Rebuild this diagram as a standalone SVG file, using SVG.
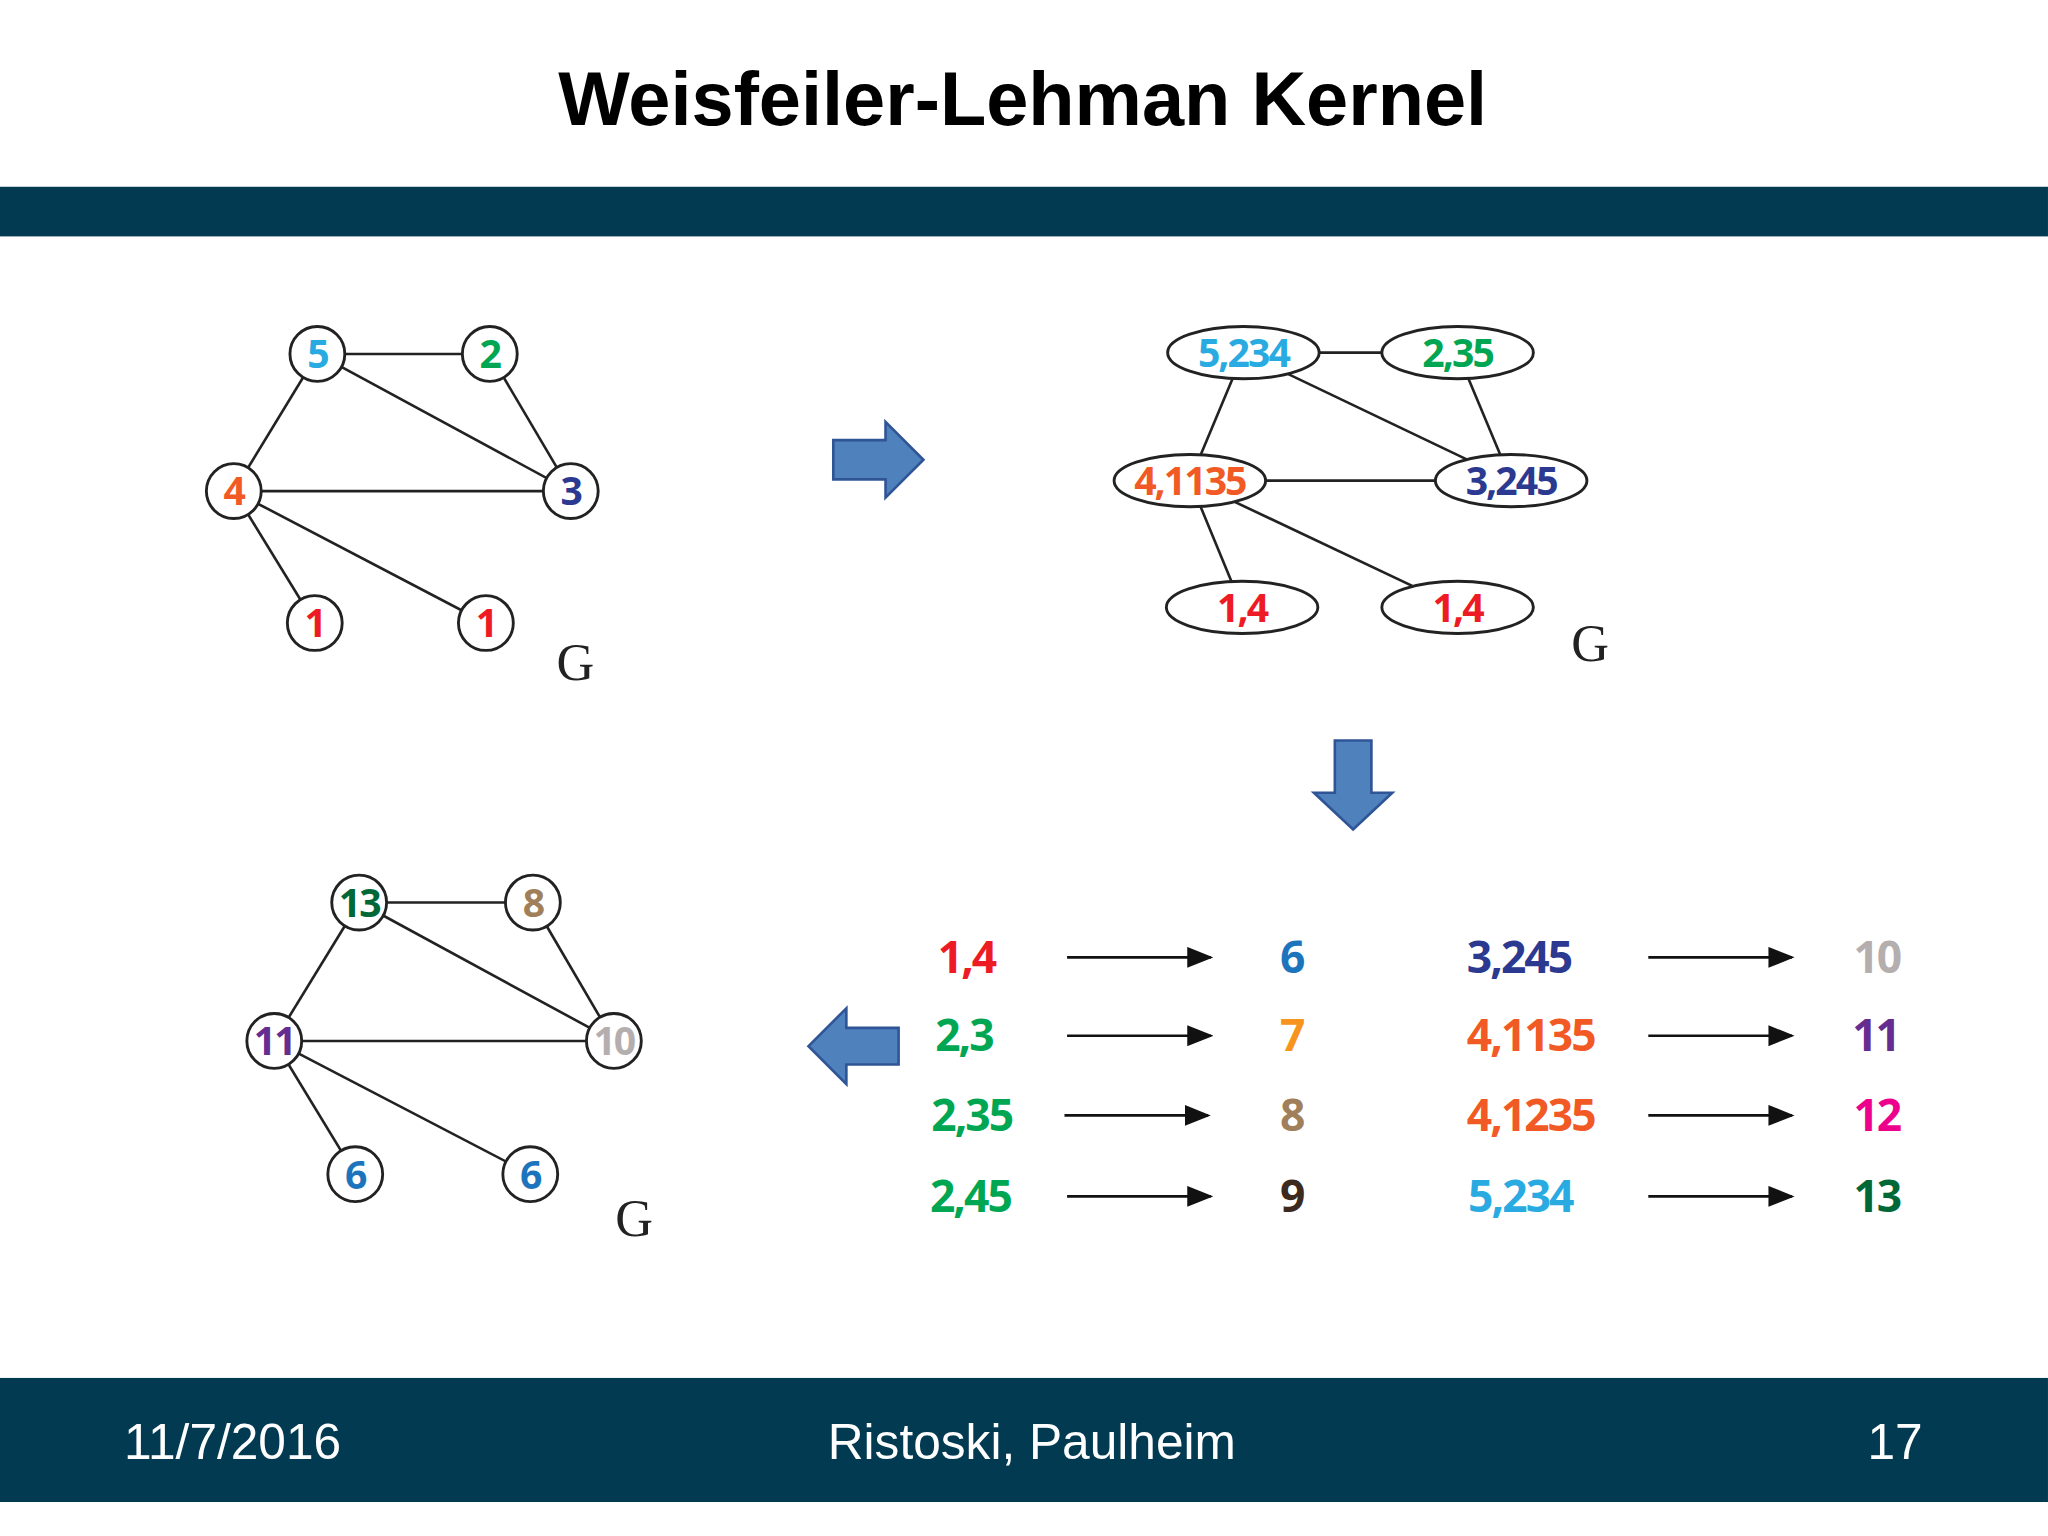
<svg xmlns="http://www.w3.org/2000/svg" width="2048" height="1536" viewBox="0 0 2048 1536">
<style>
.e{stroke:#222;stroke-width:2;fill:none}
.n{fill:#fff;stroke:#222;stroke-width:2.2}
.t{font-family:"Open Sans",sans-serif;font-weight:bold;text-anchor:middle;letter-spacing:-1.5px}
.g{font-family:"Liberation Serif",serif;font-size:40px;fill:#222}
.ar{fill:#4f81bd;stroke:#2f5597;stroke-width:2}
.tl{stroke:#111;stroke-width:2;fill:none;marker-end:url(#ah)}
.f{font-family:"Liberation Sans",Arial,sans-serif;font-size:38px;fill:#fff}
</style>
<defs><marker id="ah" markerWidth="10" markerHeight="8" refX="9" refY="4" orient="auto"><path d="M0,0 L10,4 L0,8 z" fill="#111"/></marker></defs>
<rect width="2048" height="1536" fill="#fff"/>
<g transform="scale(1.3061)">
<text x="783" y="96" font-family="Liberation Sans,Arial,sans-serif" font-weight="bold" font-size="58" text-anchor="middle" fill="#000">Weisfeiler-Lehman Kernel</text>
<rect x="0" y="143" width="1568" height="38" fill="#023a52"/>
<rect x="0" y="1055" width="1568" height="95" fill="#023a52"/>
<text class="f" x="95" y="1117">11/7/2016</text>
<text class="f" x="790" y="1117" text-anchor="middle">Ristoski, Paulheim</text>
<text class="f" x="1472" y="1117" text-anchor="end">17</text>

<g id="connectors">
<g class="e">
<line x1="243" y1="271" x2="375" y2="271"/><line x1="243" y1="271" x2="179" y2="376"/><line x1="243" y1="271" x2="437" y2="376"/><line x1="375" y1="271" x2="437" y2="376"/><line x1="179" y1="376" x2="437" y2="376"/><line x1="179" y1="376" x2="241" y2="477"/><line x1="179" y1="376" x2="372" y2="477"/>
<line x1="952" y1="270" x2="1116" y2="270"/><line x1="952" y1="270" x2="911" y2="368"/><line x1="952" y1="270" x2="1157" y2="368"/><line x1="1116" y1="270" x2="1157" y2="368"/><line x1="911" y1="368" x2="1157" y2="368"/><line x1="911" y1="368" x2="951" y2="465"/><line x1="911" y1="368" x2="1116" y2="465"/>
<line x1="275" y1="691" x2="408" y2="691"/><line x1="275" y1="691" x2="210" y2="797"/><line x1="275" y1="691" x2="470" y2="797"/><line x1="408" y1="691" x2="470" y2="797"/><line x1="210" y1="797" x2="470" y2="797"/><line x1="210" y1="797" x2="272" y2="899"/><line x1="210" y1="797" x2="406" y2="899"/>
</g>
<line class="tl" x1="817" y1="733" x2="927" y2="733"/><line class="tl" x1="817" y1="793" x2="927" y2="793"/><line class="tl" x1="815" y1="854" x2="925" y2="854"/><line class="tl" x1="817" y1="916" x2="927" y2="916"/>
<line class="tl" x1="1262" y1="733" x2="1372" y2="733"/><line class="tl" x1="1262" y1="793" x2="1372" y2="793"/><line class="tl" x1="1262" y1="854" x2="1372" y2="854"/><line class="tl" x1="1262" y1="916" x2="1372" y2="916"/>
<path class="ar" d="M638,337 H678 V323 L707,352 L678,381 V367 H638 Z"/>
<path class="ar" d="M1022,567 H1050 V607 H1066 L1036,635 L1006,607 H1022 Z"/>
<path class="ar" d="M688,787 H648 V772 L619,801 L648,830 V815 H688 Z"/>
</g>

<g id="g1" font-size="30">
<g id="n5"><circle class="n" cx="243" cy="271" r="21"/><text class="t" x="243" y="282" fill="#29abe2">5</text></g>
<g id="n2"><circle class="n" cx="375" cy="271" r="21"/><text class="t" x="375" y="282" fill="#00a651">2</text></g>
<g id="n4"><circle class="n" cx="179" cy="376" r="21"/><text class="t" x="179" y="387" fill="#f15a24">4</text></g>
<g id="n3"><circle class="n" cx="437" cy="376" r="21"/><text class="t" x="437" y="387" fill="#2b3990">3</text></g>
<g id="n1a"><circle class="n" cx="241" cy="477" r="21"/><text class="t" x="241" y="488" fill="#ed1c24">1</text></g>
<g id="n1b"><circle class="n" cx="372" cy="477" r="21"/><text class="t" x="372" y="488" fill="#ed1c24">1</text></g>
<text class="g" x="426" y="521">G</text>
</g>

<g id="g2" font-size="30">
<g id="m5"><ellipse class="n" cx="952" cy="270" rx="58" ry="20"/><text class="t" x="952" y="281" fill="#29abe2">5,234</text></g>
<g id="m2"><ellipse class="n" cx="1116" cy="270" rx="58" ry="20"/><text class="t" x="1116" y="281" fill="#00a651">2,35</text></g>
<g id="m4"><ellipse class="n" cx="911" cy="368" rx="58" ry="20"/><text class="t" x="911" y="379" fill="#f15a24">4,1135</text></g>
<g id="m3"><ellipse class="n" cx="1157" cy="368" rx="58" ry="20"/><text class="t" x="1157" y="379" fill="#2b3990">3,245</text></g>
<g id="m1a"><ellipse class="n" cx="951" cy="465" rx="58" ry="20"/><text class="t" x="951" y="476" fill="#ed1c24">1,4</text></g>
<g id="m1b"><ellipse class="n" cx="1116" cy="465" rx="58" ry="20"/><text class="t" x="1116" y="476" fill="#ed1c24">1,4</text></g>
<text class="g" x="1203" y="506">G</text>
</g>

<g id="g3" font-size="30">
<g id="k13"><circle class="n" cx="275" cy="691" r="21"/><text class="t" x="275" y="702" fill="#006837">13</text></g>
<g id="k8"><circle class="n" cx="408" cy="691" r="21"/><text class="t" x="408" y="702" fill="#a0805a">8</text></g>
<g id="k11"><circle class="n" cx="210" cy="797" r="21"/><text class="t" x="210" y="808" fill="#662d91">11</text></g>
<g id="k10"><circle class="n" cx="470" cy="797" r="21"/><text class="t" x="470" y="808" fill="#b5aeae">10</text></g>
<g id="k6a"><circle class="n" cx="272" cy="899" r="21"/><text class="t" x="272" y="910" fill="#1c75bc">6</text></g>
<g id="k6b"><circle class="n" cx="406" cy="899" r="21"/><text class="t" x="406" y="910" fill="#1c75bc">6</text></g>
<text class="g" x="471" y="946">G</text>
</g>

<g id="table" font-size="34">
<text class="t" x="740" y="745" fill="#ed1c24">1,4</text>
<text class="t" x="738" y="805" fill="#00a651">2,3</text>
<text class="t" x="744" y="866" fill="#00a651">2,35</text>
<text class="t" x="743" y="928" fill="#00a651">2,45</text>
<text class="t" x="989" y="745" fill="#1c75bc">6</text>
<text class="t" x="989" y="805" fill="#f7941d">7</text>
<text class="t" x="989" y="866" fill="#a0805a">8</text>
<text class="t" x="989" y="928" fill="#3c2a1e">9</text>
<text class="t" x="1163" y="745" fill="#2b3990">3,245</text>
<text class="t" x="1172" y="805" fill="#f15a24">4,1135</text>
<text class="t" x="1172" y="866" fill="#f15a24">4,1235</text>
<text class="t" x="1164" y="928" fill="#29abe2">5,234</text>
<text class="t" x="1437" y="745" fill="#b5aeae">10</text>
<text class="t" x="1436" y="805" fill="#662d91">11</text>
<text class="t" x="1437" y="866" fill="#ec008c">12</text>
<text class="t" x="1437" y="928" fill="#006837">13</text>
</g>
</g>
</svg>
